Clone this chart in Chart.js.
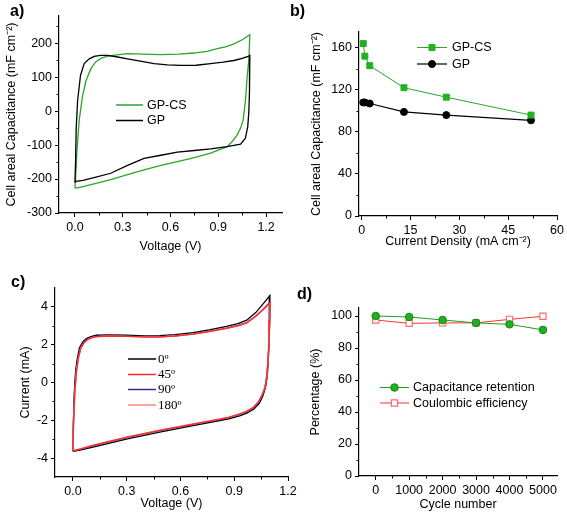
<!DOCTYPE html>
<html>
<head>
<meta charset="utf-8">
<script src="https://cdn.jsdelivr.net/npm/chart.js@4.4.1/dist/chart.umd.min.js"></script>
<style>
html, body { margin: 0; padding: 0; background: #fff; }
#wrap { position: relative; width: 567px; height: 513px; overflow: hidden; font-family: Arial, "Liberation Sans", sans-serif; }
#wrap canvas { position: absolute; }
.lbl { position: absolute; font-weight: bold; font-size: 16px; line-height: 16px; color: #000; }
</style>
</head>
<body>
<div id="wrap">
  <canvas id="chartA" width="290" height="260" style="left:0;top:0"></canvas>
  <canvas id="chartC" width="300" height="253" style="left:0;top:260px"></canvas>
  <canvas id="chartB" width="287" height="260" style="left:280px;top:0"></canvas>
  <canvas id="chartD" width="287" height="253" style="left:280px;top:260px"></canvas>
  <div class="lbl" style="left:10px;top:3px">a)</div>
  <div class="lbl" style="left:290px;top:3px">b)</div>
  <div class="lbl" style="left:11px;top:274px">c)</div>
  <div class="lbl" style="left:297px;top:286px">d)</div>
</div>
<script>
/* ---- a) CV curves, areal capacitance ---- */
var aGpX = [0, 0.004, 0.008, 0.017, 0.035, 0.058, 0.09, 0.121, 0.16, 0.205, 0.26, 0.33, 0.41, 0.497, 0.58, 0.664, 0.76, 0.852, 0.93, 0.998, 1.05, 1.092, 1.098,
            1.097, 1.095, 1.092, 1.085, 1.07, 1.04, 0.956, 0.852, 0.75, 0.643, 0.54, 0.434, 0.33, 0.225, 0.12, 0.05, 0.006, 0];
var aGpY = [-210, -150, -50, 32, 105, 140, 154, 161, 164, 164, 160, 154, 147, 140, 136, 134.7, 135, 139.6, 144, 149, 155, 162, 164,
            130, 60, 0, -46, -80, -97, -104.7, -111, -116, -121, -130, -139, -160, -183, -196, -204, -207, -210];
var aCsX = [0, 0.006, 0.012, 0.027, 0.048, 0.07, 0.1, 0.13, 0.163, 0.2, 0.25, 0.33, 0.43, 0.539, 0.65, 0.747, 0.83, 0.894, 0.95, 0.998, 1.05, 1.098,
            1.092, 1.081, 1.071, 1.056, 1.04, 1.019, 0.99, 0.956, 0.9, 0.852, 0.75, 0.643, 0.54, 0.434, 0.33, 0.225, 0.12, 0.05, 0.006, 0];
var aCsY = [-227, -180, -120, -26, 45, 90, 125, 145, 155, 161, 165, 169, 168, 166, 168, 171, 176, 183.6, 190, 198, 210, 225,
            150, 100, 32, -26.5, -50, -70, -88, -104.7, -115, -124, -137, -148.6, -160, -173, -187, -202, -214, -222, -226.6, -227];
var aXTicks = [0, 0.3, 0.6, 0.9, 1.2];
var aXMinor = [0.15, 0.45, 0.75, 1.05];
var aYTicks = [-300, -200, -100, 0, 100, 200];
var aYMinor = [-250, -150, -50, 50, 150, 250];

/* ---- b) capacitance vs current density ---- */
var bDensity = [0.5, 1, 2.5, 13, 26, 52];
var bGpCs = [164, 152, 143, 122, 113, 96];
var bGp = [108, 108, 107, 99, 96, 91];
var bXTicks = [0, 15, 30, 45, 60];
var bXMinor = [7.5, 22.5, 37.5, 52.5];
var bYTicks = [0, 40, 80, 120, 160];
var bYMinor = [20, 60, 100, 140];

/* ---- c) CV at bending angles ---- */
var c0X = [0, 0.003, 0.008, 0.015, 0.025, 0.037, 0.055, 0.075, 0.1, 0.13, 0.2, 0.298, 0.4, 0.484, 0.57, 0.67, 0.76, 0.857, 0.92, 0.97, 1.02, 1.06, 1.099,
           1.097, 1.094, 1.09, 1.085, 1.075, 1.06, 1.04, 1.01, 0.97, 0.93, 0.87, 0.82, 0.67, 0.484, 0.298, 0.112, 0.04, 0];
var c0Y = [-3.65, -2.0, -0.5, 0.6, 1.3, 1.85, 2.15, 2.32, 2.43, 2.5, 2.52, 2.5, 2.47, 2.48, 2.53, 2.64, 2.78, 2.97, 3.12, 3.3, 3.7, 4.15, 4.6,
           3.5, 2.3, 1.2, 0.4, -0.25, -0.7, -1.1, -1.4, -1.62, -1.76, -1.92, -2.02, -2.28, -2.62, -3.0, -3.42, -3.58, -3.65];
var c45X = [0, 0.004, 0.011, 0.02, 0.031, 0.044, 0.062, 0.082, 0.106, 0.135, 0.2, 0.298, 0.4, 0.484, 0.57, 0.67, 0.76, 0.857, 0.92, 0.97, 1.02, 1.06, 1.1,
            1.098, 1.094, 1.088, 1.082, 1.072, 1.056, 1.035, 1.005, 0.965, 0.925, 0.87, 0.82, 0.67, 0.484, 0.298, 0.112, 0.04, 0];
var c45Y = [-3.62, -2.0, -0.5, 0.6, 1.3, 1.82, 2.1, 2.27, 2.37, 2.43, 2.46, 2.44, 2.41, 2.41, 2.46, 2.56, 2.69, 2.86, 3.0, 3.15, 3.5, 3.85, 4.22,
            3.3, 2.2, 1.1, 0.35, -0.25, -0.65, -1.03, -1.33, -1.55, -1.68, -1.84, -1.94, -2.2, -2.53, -2.9, -3.33, -3.52, -3.62];
var c90X = [0, 0.003, 0.009, 0.017, 0.028, 0.04, 0.058, 0.078, 0.103, 0.132, 0.2, 0.298, 0.4, 0.484, 0.57, 0.67, 0.76, 0.857, 0.92, 0.97, 1.02, 1.06, 1.1,
            1.098, 1.094, 1.088, 1.082, 1.072, 1.057, 1.036, 1.006, 0.966, 0.926, 0.87, 0.82, 0.67, 0.484, 0.298, 0.112, 0.04, 0];
var c90Y = [-3.63, -2.0, -0.5, 0.6, 1.3, 1.83, 2.12, 2.29, 2.39, 2.45, 2.47, 2.45, 2.42, 2.42, 2.47, 2.57, 2.7, 2.88, 3.02, 3.17, 3.52, 3.87, 4.25,
            3.3, 2.2, 1.1, 0.35, -0.25, -0.66, -1.05, -1.35, -1.57, -1.7, -1.86, -1.96, -2.22, -2.55, -2.92, -3.35, -3.54, -3.63];
var c180X = [0, 0.004, 0.011, 0.02, 0.031, 0.044, 0.062, 0.082, 0.106, 0.135, 0.2, 0.298, 0.4, 0.484, 0.57, 0.67, 0.76, 0.857, 0.92, 0.97, 1.02, 1.06, 1.1,
             1.098, 1.094, 1.088, 1.082, 1.072, 1.056, 1.035, 1.005, 0.965, 0.925, 0.87, 0.82, 0.67, 0.484, 0.298, 0.112, 0.04, 0];
var c180Y = [-3.61, -2.0, -0.5, 0.6, 1.3, 1.82, 2.1, 2.27, 2.37, 2.43, 2.46, 2.44, 2.41, 2.41, 2.46, 2.56, 2.69, 2.86, 3.0, 3.15, 3.5, 3.84, 4.2,
             3.3, 2.2, 1.1, 0.35, -0.24, -0.64, -1.02, -1.32, -1.54, -1.67, -1.83, -1.93, -2.19, -2.52, -2.89, -3.32, -3.51, -3.61];
var cXTicks = [0, 0.3, 0.6, 0.9, 1.2];
var cXMinor = [0.15, 0.45, 0.75, 1.05];
var cYTicks = [-4, -2, 0, 2, 4];
var cYMinor = [-3, -1, 1, 3];

/* ---- d) cycling ---- */
var dCycles = [0, 1000, 2000, 3000, 4000, 5000];
var dRetention = [100, 99.4, 97.5, 95.7, 94.8, 91.3];
var dEfficiency = [97.5, 95.4, 95.7, 95.7, 97.9, 99.8];
var dXTicks = [0, 1000, 2000, 3000, 4000, 5000];
var dXMinor = [500, 1500, 2500, 3500, 4500];
var dYTicks = [0, 20, 40, 60, 80, 100];
var dYMinor = [10, 30, 50, 70, 90];

var FONT = 'Arial, "Liberation Sans", sans-serif';
var GREEN = '#2aa52a';

function pts(xs, ys) {
    return xs.map(function (x, i) { return { x: x, y: ys[i] }; });
}

/* short minor ticks, outside the axes */
var minorTicks = {
    id: 'minorTicks',
    afterDraw: function (chart, args, o) {
        var ctx = chart.ctx, xs = chart.scales.x, ys = chart.scales.y;
        ctx.save();
        ctx.strokeStyle = '#000';
        ctx.lineWidth = 1;
        ctx.beginPath();
        (o.x || []).forEach(function (v) {
            var p = Math.round(xs.getPixelForValue(v)) + 0.5;
            ctx.moveTo(p, xs.top); ctx.lineTo(p, xs.top + 2.5);
        });
        (o.y || []).forEach(function (v) {
            var p = Math.round(ys.getPixelForValue(v)) + 0.5;
            ctx.moveTo(ys.right, p); ctx.lineTo(ys.right - 2.5, p);
        });
        ctx.stroke();
        ctx.restore();
    }
};

/* legend drawn inside the plot, like the Origin figure */
var inlineLegend = {
    id: 'inlineLegend',
    afterDatasetsDraw: function (chart, args, o) {
        var ctx = chart.ctx;
        ctx.save();
        ctx.font = o.font;
        ctx.textBaseline = 'middle';
        ctx.textAlign = 'left';
        chart.data.datasets.forEach(function (ds, i) {
            var y = o.rows[i];
            ctx.strokeStyle = ds.borderColor;
            ctx.lineWidth = o.lineWidth || ds.borderWidth;
            ctx.beginPath(); ctx.moveTo(o.x0, y); ctx.lineTo(o.x1, y); ctx.stroke();
            if (ds.pointRadius > 0) {
                ctx.fillStyle = ds.pointBackgroundColor;
                ctx.strokeStyle = ds.pointBorderColor;
                ctx.lineWidth = ds.pointBorderWidth || 1;
                Chart.helpers.drawPoint(ctx, { pointStyle: ds.pointStyle, radius: ds.pointRadius, borderWidth: ctx.lineWidth }, (o.x0 + o.x1) / 2, y);
            }
            ctx.fillStyle = '#000';
            ctx.fillText(ds.label, o.tx, y + 0.5);
        });
        ctx.restore();
    }
};

function axis(pos, min, max, ticks, size, title, fmt, titlePad) {
    return {
        type: 'linear',
        position: pos,
        min: min,
        max: max,
        border: { display: true, color: '#000', width: 1.2 },
        grid: { drawOnChartArea: false, drawTicks: true, tickLength: 4, tickColor: '#000', tickWidth: 1 },
        ticks: {
            color: '#000', padding: 3, autoSkip: false, maxRotation: 0,
            font: { family: FONT, size: 12.5 },
            callback: fmt || function (v) { return String(v); }
        },
        title: { display: true, text: title, color: '#000', font: { family: FONT, size: 12.5 }, padding: titlePad || { top: 4, bottom: 4 } },
        afterBuildTicks: function (s) { s.ticks = ticks.map(function (v) { return { value: v }; }); },
        afterFit: function (s) { if (pos === 'left') { s.width = size; } else { s.height = size; } }
    };
}

function oneDec(v) { return v.toFixed(1); }

function baseOptions(pad, scales, minor, legend) {
    return {
        responsive: false,
        animation: false,
        devicePixelRatio: 1,
        events: [],
        layout: { padding: pad },
        scales: scales,
        plugins: {
            legend: { display: false },
            tooltip: { enabled: false },
            minorTicks: minor,
            inlineLegend: legend
        }
    };
}

function cvLine(label, xs, ys, color, order) {
    return { label: label, data: pts(xs, ys), showLine: true, borderColor: color, borderWidth: 1.3,
             pointRadius: 0, tension: 0, order: order };
}

/* a) */
new Chart(document.getElementById('chartA'), {
    type: 'scatter',
    data: { datasets: [
        cvLine('GP-CS', aCsX, aCsY, GREEN, 1),
        cvLine('GP', aGpX, aGpY, '#000', 0)
    ] },
    options: baseOptions({ left: 0, top: 16, right: 8, bottom: 2 }, {
        x: axis('bottom', -0.1, 1.3, aXTicks, 45, 'Voltage (V)', oneDec),
        y: axis('left', -300, 280, aYTicks, 59, 'Cell areal Capacitance (mF cm\u207B\u00B2)')
    }, { x: aXMinor, y: aYMinor },
    { font: '12.5px ' + FONT, x0: 116, x1: 143, tx: 147, rows: [105, 120.5], lineWidth: 1.5 }),
    plugins: [minorTicks, inlineLegend]
});

/* b) */
new Chart(document.getElementById('chartB'), {
    type: 'scatter',
    data: { datasets: [
        { label: 'GP-CS', data: pts(bDensity, bGpCs), showLine: true, borderColor: GREEN, borderWidth: 1,
          pointStyle: 'rect', pointRadius: 4.2, pointBackgroundColor: '#22b022', pointBorderColor: '#22b022', pointBorderWidth: 1 },
        { label: 'GP', data: pts(bDensity, bGp), showLine: true, borderColor: '#000', borderWidth: 1.2,
          pointStyle: 'circle', pointRadius: 3.5, pointBackgroundColor: '#000', pointBorderColor: '#000', pointBorderWidth: 1 }
    ] },
    options: baseOptions({ left: 25, top: 32, right: 9, bottom: 7 }, {
        x: axis('bottom', -0.8, 60, bXTicks, 37, 'Current Density (mA cm\u207B\u00B2)'),
        y: axis('left', 0, 175, bYTicks, 54, 'Cell areal Capacitance (mF cm\u207B\u00B2)')
    }, { x: bXMinor, y: bYMinor },
    { font: '12.5px ' + FONT, x0: 137, x1: 167, tx: 172, rows: [47.5, 64] }),
    plugins: [minorTicks, inlineLegend]
});

/* c) */
new Chart(document.getElementById('chartC'), {
    type: 'scatter',
    data: { datasets: [
        cvLine('0\u00BA', c0X, c0Y, '#000', 4),
        cvLine('45\u00BA', c45X, c45Y, '#ff2a2a', 1),
        cvLine('90\u00BA', c90X, c90Y, '#2c2ca0', 3),
        cvLine('180\u00BA', c180X, c180Y, '#ff8878', 2)
    ] },
    options: baseOptions({ left: 14, top: 28, right: 12, bottom: 0 }, {
        x: axis('bottom', -0.1, 1.2, cXTicks, 36, 'Voltage (V)', oneDec, { top: 4, bottom: 2 }),
        y: axis('left', -5, 5, cYTicks, 41, 'Current (mA)')
    }, { x: cXMinor, y: cYMinor },
    { font: '13px "Liberation Serif", "Times New Roman", serif', x0: 128, x1: 156, tx: 158, rows: [99, 114.5, 129.5, 145], lineWidth: 1.5 }),
    plugins: [minorTicks, inlineLegend]
});

/* d) */
new Chart(document.getElementById('chartD'), {
    type: 'scatter',
    data: { datasets: [
        { label: 'Capacitance retention', data: pts(dCycles, dRetention), showLine: true, borderColor: '#1f9e1f', borderWidth: 1,
          pointStyle: 'circle', pointRadius: 3.8, pointBackgroundColor: '#22b022', pointBorderColor: '#128a12', pointBorderWidth: 1 },
        { label: 'Coulombic efficiency', data: pts(dCycles, dEfficiency), showLine: true, borderColor: '#ff3030', borderWidth: 1,
          pointStyle: 'rect', pointRadius: 4.4, pointBackgroundColor: '#ffffff', pointBorderColor: '#ff6a6a', pointBorderWidth: 1.2 }
    ] },
    options: baseOptions({ left: 24, top: 48, right: 10, bottom: 0 }, {
        x: axis('bottom', -500, 5420, dXTicks, 37, 'Cycle number', null, { top: 4, bottom: 1 }),
        y: axis('left', 0, 105, dYTicks, 55, 'Percentage (%)')
    }, { x: dXMinor, y: dYMinor },
    { font: '12.5px ' + FONT, x0: 100, x1: 129, tx: 133, rows: [127.5, 143] }),
    plugins: [minorTicks, inlineLegend]
});
</script>
</body>
</html>
